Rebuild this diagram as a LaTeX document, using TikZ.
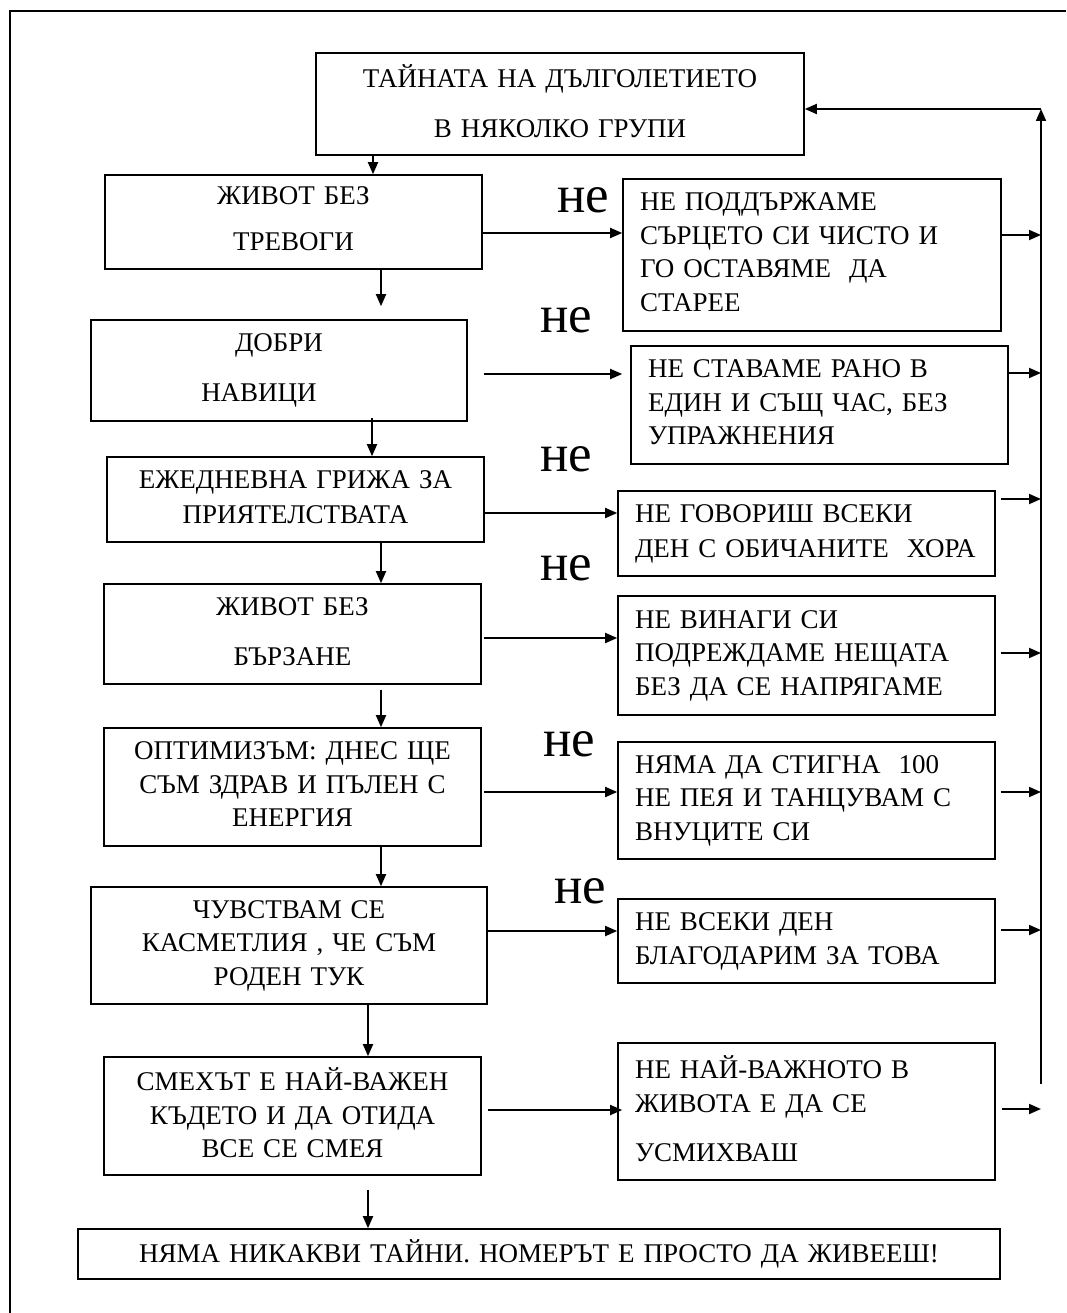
\documentclass[tikz,border=0pt]{standalone}
\usepackage{fontspec}
\setmainfont{Liberation Serif}
\usetikzlibrary{arrows.meta}
\newcommand\tst{\rule[-6pt]{0pt}{24pt}}
\begin{document}
\begin{tikzpicture}[x=1pt,y=-1pt,
  bx/.style={draw, line width=1.6pt, inner ysep=0pt, font=\fontsize{27}{33.5}\selectfont},
  lbox/.style={bx, align=center, inner xsep=5pt},
  rbox/.style={bx, align=left, inner xsep=17pt},
  arr/.style={line width=1.8pt, -{Triangle[length=12pt,width=10pt]}},
  nel/.style={anchor=base west, inner sep=0pt, font=\fontsize{53}{53}\selectfont}]
\useasboundingbox (0,0) rectangle (1066,1313);
% outer frame
\coordinate (fa) at (10,1313);
\coordinate (fb) at (10,11);
\coordinate (fc) at (1066,11);
\draw[line width=1.5pt] (fa) -- (fb) -- (fc);

% left column
\node[lbox, text width=478pt, minimum height=102pt] (top) at (560,104)
  {\tst ТАЙНАТА НА ДЪЛГОЛЕТИЕТО\\[16.5pt] В НЯКОЛКО ГРУПИ\tst};
\node[lbox, text width=367pt, minimum height=94pt] (b2) at (293.5,222)
  {\tst ЖИВОТ БЕЗ\\[12.5pt] ТРЕВОГИ\tst};
\node[lbox, text width=366pt, minimum height=101pt] (b3) at (279,370.5)
  {\tst ДОБРИ\hspace*{40pt}\\[16.5pt] НАВИЦИ\hspace*{40pt}\tst};
\node[lbox, text width=367pt, minimum height=85pt] (b4) at (295.5,499.5)
  {\tst ЕЖЕДНЕВНА ГРИЖА ЗА\\[1.5pt] ПРИЯТЕЛСТВАТА\tst};
\node[lbox, text width=367pt, minimum height=100pt] (b5) at (292.5,634)
  {\tst ЖИВОТ БЕЗ\\[16.5pt] БЪРЗАНЕ\tst};
\node[lbox, text width=367pt, minimum height=118pt] (b6) at (292.5,787)
  {\tst ОПТИМИЗЪМ: ДНЕС ЩЕ\\ СЪМ ЗДРАВ И ПЪЛЕН С\\ ЕНЕРГИЯ\tst};
\node[lbox, text width=386pt, minimum height=117pt] (b7) at (289,945.5)
  {\tst ЧУВСТВАМ СЕ\\ КАСМЕТЛИЯ , ЧЕ СЪМ\\ РОДЕН ТУК\tst};
\node[lbox, text width=367pt, minimum height=118pt] (b8) at (292.5,1116)
  {\tst СМЕХЪТ Е НАЙ-ВАЖЕН\\ КЪДЕТО И ДА ОТИДА\\ ВСЕ СЕ СМЕЯ\tst};
\node[lbox, text width=912pt, minimum height=50pt] (fin) at (539,1254)
  {\tst НЯМА НИКАКВИ ТАЙНИ. НОМЕРЪТ Е ПРОСТО ДА ЖИВЕЕШ!};

% right column
\node[rbox, text width=344pt, minimum height=152pt] (r1) at (812,255)
  {\tst НЕ ПОДДЪРЖАМЕ\\ СЪРЦЕТО СИ ЧИСТО И\\ ГО ОСТАВЯМЕ~ ДА\\ СТАРЕЕ\tst};
\node[rbox, text width=343pt, minimum height=118pt] (r2) at (819.5,405)
  {\tst НЕ СТАВАМЕ РАНО В\\ ЕДИН И СЪЩ ЧАС, БЕЗ\\ УПРАЖНЕНИЯ\tst};
\node[rbox, text width=343pt, minimum height=85pt] (r3) at (806.5,533.5)
  {\tst НЕ ГОВОРИШ ВСЕКИ\\[1.5pt] ДЕН С ОБИЧАНИТЕ~ ХОРА\tst};
\node[rbox, text width=343pt, minimum height=119pt] (r4) at (806.5,655.5)
  {\tst НЕ ВИНАГИ СИ\\ ПОДРЕЖДАМЕ НЕЩАТА\\ БЕЗ ДА СЕ НАПРЯГАМЕ\tst};
\node[rbox, text width=343pt, minimum height=117pt] (r5) at (806.5,800.5)
  {\tst НЯМА ДА СТИГНА~ 100\\ НЕ ПЕЯ И ТАНЦУВАМ С\\ ВНУЦИТЕ СИ\tst};
\node[rbox, text width=343pt, minimum height=84pt] (r6) at (806.5,941)
  {\tst НЕ ВСЕКИ ДЕН\\[0.5pt] БЛАГОДАРИМ ЗА ТОВА\tst};
\node[rbox, text width=343pt, minimum height=137pt] (r7) at (806.5,1111.5)
  {\tst НЕ НАЙ-ВАЖНОТО В\\ ЖИВОТА Е ДА СЕ\\[15.5pt] УСМИХВАШ\tst};

% "не" labels
\node[nel] (n1) at (557,213) {не};
\node[nel] (n2) at (540,332) {не};
\node[nel] (n3) at (540,471) {не};
\node[nel] (n4) at (540,580) {не};
\node[nel] (n5) at (543,756) {не};
\node[nel] (n6) at (554,903) {не};

% vertical feedback line
\coordinate (vb) at (1041,1084);
\coordinate (vt) at (1041,109);
\draw[arr] (vb) -- (vt);
\draw[arr] (vt) -- (vt -| top.east);

% down arrows
\draw[arr] ([xshift=-187pt]top.south) -- ([xshift=-187pt]top.south |- b2.north);
\draw[arr] ([xshift=87.5pt]b2.south) -- ([xshift=87.5pt,yshift=13pt]b2.south |- b3.north);
\draw[arr] ([xshift=93pt,yshift=4pt]b3.south) -- ([xshift=93pt]b3.south |- b4.north);
\draw[arr] ([xshift=85.5pt]b4.south) -- ([xshift=85.5pt]b4.south |- b5.north);
\draw[arr] ([xshift=88.5pt,yshift=-5pt]b5.south) -- ([xshift=88.5pt]b5.south |- b6.north);
\draw[arr] ([xshift=88.5pt]b6.south) -- ([xshift=88.5pt]b6.south |- b7.north);
\draw[arr] ([xshift=79pt]b7.south) -- ([xshift=79pt]b7.south |- b8.north);
\draw[arr] ([xshift=75.5pt,yshift=-14pt]b8.south) -- ([xshift=75.5pt]b8.south |- fin.north);

% left-to-right arrows
\draw[arr] ([yshift=-11pt]b2.east) -- ([yshift=-11pt]b2.east -| r1.west);
\draw[arr] ([xshift=16pt,yshift=-3.5pt]b3.east) -- ([xshift=-8pt,yshift=-3.5pt]b3.east -| r2.west);
\draw[arr] ([yshift=-13.5pt]b4.east) -- ([yshift=-13.5pt]b4.east -| r3.west);
\draw[arr] ([xshift=2pt,yshift=-4pt]b5.east) -- ([yshift=-4pt]b5.east -| r4.west);
\draw[arr] ([xshift=2pt,yshift=-5pt]b6.east) -- ([yshift=-5pt]b6.east -| r5.west);
\draw[arr] ([yshift=14.5pt]b7.east) -- ([yshift=14.5pt]b7.east -| r6.west);
\draw[arr] ([xshift=6pt,yshift=6pt]b8.east) -- ([xshift=5pt,yshift=6pt]b8.east -| r7.west);

% right-to-line arrows
\draw[arr] ([yshift=20pt]r1.east) -- ([yshift=20pt]r1.east -| vb);
\draw[arr] ([yshift=32pt]r2.east) -- ([yshift=32pt]r2.east -| vb);
\draw[arr] ([xshift=5pt,yshift=34.5pt]r3.east) -- ([yshift=34.5pt]r3.east -| vb);
\draw[arr] ([xshift=5pt,yshift=2.5pt]r4.east) -- ([yshift=2.5pt]r4.east -| vb);
\draw[arr] ([xshift=5pt,yshift=8.5pt]r5.east) -- ([yshift=8.5pt]r5.east -| vb);
\draw[arr] ([xshift=5pt,yshift=11pt]r6.east) -- ([yshift=11pt]r6.east -| vb);
\draw[arr] ([xshift=6pt,yshift=2.5pt]r7.east) -- ([yshift=2.5pt]r7.east -| vb);
\end{tikzpicture}
\end{document}
